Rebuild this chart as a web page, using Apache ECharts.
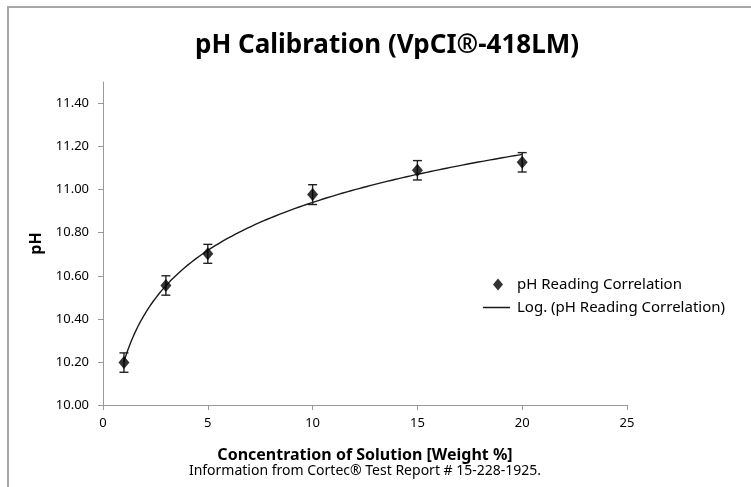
<!DOCTYPE html>
<html>
<head>
<meta charset="utf-8">
<script src="https://cdn.jsdelivr.net/npm/echarts@6/dist/echarts.min.js"></script>
<style>
html,body{margin:0;padding:0;background:#fff;}
#chart{width:751px;height:487px;}
</style>
</head>
<body>
<div id="chart"></div>
<script>
// ---- data ----
var concentration = [1, 3, 5, 10, 15, 20];
var phValues = [10.197, 10.555, 10.702, 10.977, 11.090, 11.127];
var phError = [0.045, 0.045, 0.044, 0.046, 0.045, 0.045];
var yTicks = [10.0, 10.2, 10.4, 10.6, 10.8, 11.0, 11.2, 11.4];
var xTicks = [0, 5, 10, 15, 20, 25];
var titleText = 'pH Calibration (VpCI\u00AE-418LM)';
var xName = 'Concentration of Solution [Weight %]';
var yName = 'pH';
var footer = 'Information from Cortec\u00AE Test Report # 15-228-1925.';
var seriesName = 'pH Reading Correlation';
var trendName = 'Log. (pH Reading Correlation)';

// Logarithmic trendline (least squares on ln x), as in the spreadsheet trendline
function logFit(xs, ys) {
  var n = xs.length, lx = xs.map(Math.log);
  var mx = lx.reduce(function(a,b){return a+b;},0)/n;
  var my = ys.reduce(function(a,b){return a+b;},0)/n;
  var sxy = 0, sxx = 0;
  for (var i = 0; i < n; i++) { sxy += (lx[i]-mx)*(ys[i]-my); sxx += (lx[i]-mx)*(lx[i]-mx); }
  var a = sxy/sxx; return {a: a, b: my - a*mx};
}
var fit = logFit(concentration, phValues);
var trend = [];
var x0 = concentration[0], x1 = concentration[concentration.length-1];
for (var k = 0; k <= 200; k++) {
  var xv = x0 + (x1 - x0) * k / 200;
  trend.push([xv, fit.a * Math.log(xv) + fit.b]);
}
var points = concentration.map(function(c, i){ return [c, phValues[i]]; });
var errData = concentration.map(function(c, i){ return [c, phValues[i] - phError[i], phValues[i] + phError[i]]; });

var FONT = 'Noto Sans';
var chart = echarts.init(document.getElementById('chart'), null, {renderer: 'canvas'});
chart.setOption({
  backgroundColor: '#fff',
  animation: false,
  title: {
    text: titleText,
    left: 382, top: 28, textAlign: 'center',
    textStyle: {fontFamily: FONT, fontSize: 26, fontWeight: 'bold', color: '#000'}
  },
  legend: [
    {
      left: 493, top: 277, padding: 0, itemWidth: 10, itemHeight: 12,
      textStyle: {fontFamily: FONT, fontSize: 15, color: '#000', padding: [0, 0, 0, 9]},
      data: [{name: seriesName, icon: 'diamond'}]
    },
    {
      left: 483, top: 300, padding: 0, itemWidth: 27, itemHeight: 1.5,
      textStyle: {fontFamily: FONT, fontSize: 15, color: '#000', padding: [0, 0, 0, 2]},
      data: [{name: trendName, icon: 'rect'}]
    }
  ],
  grid: {left: 103, right: 124, top: 82, bottom: 82, containLabel: false},
  xAxis: {
    type: 'value', min: 0, max: 25, interval: 5,
    name: xName, nameLocation: 'middle', nameGap: 42,
    nameTextStyle: {fontFamily: FONT, fontSize: 16, fontWeight: 'bold', color: '#000'},
    axisLine: {show: true, lineStyle: {color: '#999', width: 1}},
    axisTick: {show: true, length: 5, lineStyle: {color: '#999'}, customValues: xTicks},
    axisLabel: {fontFamily: FONT, fontSize: 13, color: '#000', margin: 12, customValues: xTicks},
    splitLine: {show: false}
  },
  yAxis: {
    type: 'value', min: 10, max: 11.5, interval: 0.1,
    name: yName, nameLocation: 'middle', nameGap: 59, nameRotate: 90,
    nameTextStyle: {fontFamily: FONT, fontSize: 16, fontWeight: 'bold', color: '#000'},
    axisLine: {show: true, lineStyle: {color: '#999', width: 1}},
    axisTick: {show: true, length: 5, lineStyle: {color: '#999'}, customValues: yTicks},
    axisLabel: {fontFamily: FONT, fontSize: 13, color: '#000', margin: 14, customValues: yTicks,
      formatter: function(v){ return v.toFixed(2); }},
    splitLine: {show: false}
  },
  series: [
    {
      name: 'err', type: 'custom', data: errData, z: 2, silent: true,
      renderItem: function(params, api) {
        var x = api.value(0);
        var lo = api.coord([x, api.value(1)]);
        var hi = api.coord([x, api.value(2)]);
        var cw = 4.5;
        var st = {stroke: '#222', lineWidth: 1.4};
        return {type: 'group', children: [
          {type: 'line', shape: {x1: lo[0], y1: lo[1], x2: hi[0], y2: hi[1]}, style: st},
          {type: 'line', shape: {x1: lo[0]-cw, y1: lo[1], x2: lo[0]+cw, y2: lo[1]}, style: st},
          {type: 'line', shape: {x1: hi[0]-cw, y1: hi[1], x2: hi[0]+cw, y2: hi[1]}, style: st}
        ]};
      }
    },
    {
      name: trendName, type: 'line', data: trend, showSymbol: false, symbol: 'none', z: 3,
      smooth: false, lineStyle: {color: '#1a1a1a', width: 1.4}, itemStyle: {color: '#1a1a1a'}
    },
    {
      name: seriesName, type: 'scatter', data: points, symbol: 'diamond', symbolSize: [11, 13], z: 4,
      itemStyle: {color: '#000'}
    }
  ],
  graphic: [
    {type: 'rect', shape: {x: 8, y: 7, width: 800, height: 600}, style: {fill: null, stroke: '#a6a6a6', lineWidth: 2}, z: 100, silent: true},
    {type: 'text', x: 365, y: 471, style: {text: footer, fontFamily: FONT, fontSize: 14, fill: '#000', align: 'center', verticalAlign: 'middle'}, silent: true}
  ]
});
</script>
</body>
</html>
